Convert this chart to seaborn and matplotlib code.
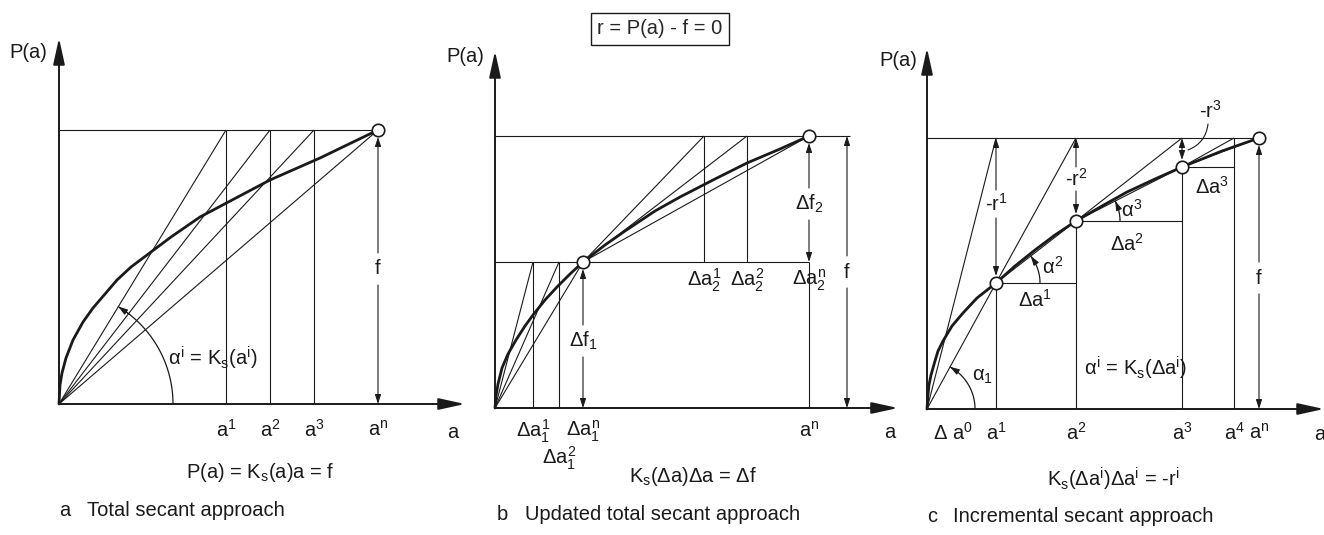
import numpy as np
import matplotlib
matplotlib.use("Agg")
import matplotlib.pyplot as plt
import seaborn as sns

# all values are in pixel-sized units measured from each panel's axis origin

# panel a: total secant approach
a_f = 274
a_an = 319
a_iter = [167, 211, 255]
a_curve_x = [0, 1, 3, 7, 14, 24, 34, 46, 58, 72, 88, 112, 141, 175, 211, 261, 319]
a_curve_y = [0, 19, 31, 46, 64, 82, 96, 110, 124, 137, 149, 167, 187, 205, 224, 246, 274]
a_ticks = ['a$^1$', 'a$^2$', 'a$^3$']

# panel b: updated total secant approach
b_f = 272
b_f1 = 146
b_an = 314
b_a1n = 88
b_iter1 = [38, 64]
b_iter2 = [209, 252]
b_curve_x = [0, 1, 3, 7, 13, 21, 30, 38, 50, 62, 75, 88,
             110, 130, 160, 185, 220, 252, 285, 314]
b_curve_y = [0, 12, 24, 40, 54, 68, 82, 93, 108, 121, 134, 146,
             163, 177, 197, 211, 229, 245, 259, 272]

# panel c: incremental secant approach
c_f = 271
c_steps_x = [0, 69, 149, 255, 332]
c_steps_y = [0, 126, 188, 242, 271]
c_a4 = 307
c_curve_x = [0, 1, 2, 4, 8, 11, 16, 25, 36, 50, 69, 88, 108, 128, 149, 175, 200, 228, 255, 295, 332]
c_curve_y = [0, 14, 24, 34, 48, 58, 68, 83, 96, 111, 126, 143, 159, 174, 188, 203, 217, 230, 242, 258, 271]

W, H = 1324, 535
FS = 14.5

sns.set_theme(style="white")
plt.rcParams['font.family'] = ['Liberation Sans', 'DejaVu Sans']
plt.rcParams['mathtext.fontset'] = 'custom'
plt.rcParams['mathtext.rm'] = 'Liberation Sans'
plt.rcParams['mathtext.it'] = 'Liberation Sans'
plt.rcParams['mathtext.bf'] = 'Liberation Sans:bold'

fig = plt.figure(figsize=(W / 100, H / 100), dpi=100)
fig.patch.set_facecolor('white')

AX_KW = dict(arrowstyle='-|>,head_length=1.6,head_width=0.35', lw=1.4, color='k',
             shrinkA=0, shrinkB=0, mutation_scale=10)
DIM_KW = dict(arrowstyle='-|>,head_length=0.55,head_width=0.18', lw=0.8, color='k',
              shrinkA=0, shrinkB=0, mutation_scale=10)


def panel(ox, oy):
    ax = fig.add_axes([0, 0, 1, 1])
    ax.set_xlim(-ox, W - ox)
    ax.set_ylim(oy - H, oy)
    ax.set_axis_off()
    ax.patch.set_alpha(0)
    return ax


def txt(ax, x, y, s, ha='center', size=FS):
    ax.text(x, y, s, ha=ha, va='center', fontsize=size, color='k')


def seg(ax, xs, ys, lw=0.8):
    ax.plot(xs, ys, color='k', lw=lw, solid_capstyle='butt')


def axes_arrows(ax, xtip, ytip):
    ax.annotate('', xy=(xtip, 0), xytext=(0, 0), arrowprops=AX_KW)
    ax.annotate('', xy=(0, ytip), xytext=(0, 0), arrowprops=AX_KW)


def dim(ax, x, y0, y1, ylab=None, label=None, gap=16):
    if ylab is None:
        mid = (y0 + y1) / 2
        ax.annotate('', xy=(x, y1), xytext=(x, mid), arrowprops=DIM_KW)
        ax.annotate('', xy=(x, y0), xytext=(x, mid), arrowprops=DIM_KW)
    else:
        ax.annotate('', xy=(x, y1), xytext=(x, ylab + gap), arrowprops=DIM_KW)
        ax.annotate('', xy=(x, y0), xytext=(x, ylab - gap), arrowprops=DIM_KW)
        txt(ax, x, ylab, label)


def angle_arc(ax, cx, cy, r, px, py):
    t_end = np.arctan2(py - cy, px - cx)
    t = np.linspace(0, t_end, 60)
    ax.plot(cx + r * np.cos(t), cy + r * np.sin(t), color='k', lw=0.9)
    tb = t_end - 0.12
    ax.annotate('', xy=(cx + r * np.cos(t_end), cy + r * np.sin(t_end)),
                xytext=(cx + r * np.cos(tb), cy + r * np.sin(tb)), arrowprops=DIM_KW)


def curve(ax, xs, ys):
    sns.lineplot(x=xs, y=ys, ax=ax, color='k', lw=2.0, sort=False, estimator=None)


def circles(ax, xs, ys):
    ax.scatter(xs, ys, s=80, facecolor='white', edgecolor='k', linewidth=1.2, zorder=6)


# ---------------- panel a ----------------
ax = panel(59, 404)
axes_arrows(ax, 406, 366)
txt(ax, -31, 352, 'P(a)')
seg(ax, [0, a_an], [a_f, a_f])
for xi in a_iter:
    seg(ax, [xi, xi], [0, a_f])
    seg(ax, [0, xi], [0, a_f])
seg(ax, [0, a_an], [0, a_f])
curve(ax, a_curve_x, a_curve_y)
circles(ax, [a_an], [a_f])
dim(ax, a_an, 0, a_f - 7, 135, 'f')
angle_arc(ax, 0, 0, 114, a_iter[0], a_f)
txt(ax, 154, 46, r'$\alpha^i$ = K$_s$(a$^i$)')
for xi, lab in zip(a_iter, a_ticks):
    txt(ax, xi, -26, lab)
txt(ax, a_an, -26, 'a$^n$')
txt(ax, 394, -28, 'a')
txt(ax, 201, -69, 'P(a) = K$_s$(a)a = f')
txt(ax, 0, -107, 'a', ha='left')
txt(ax, 28, -107, 'Total secant approach', ha='left')

# ---------------- panel b ----------------
ax = panel(495, 408)
axes_arrows(ax, 403, 357)
txt(ax, -30, 352, 'P(a)')
ax.text(165, 379, 'r = P(a) - f = 0', ha='center', va='center', fontsize=FS,
        bbox=dict(boxstyle='square,pad=0.3', fc='white', ec='k', lw=1.0))
seg(ax, [0, 355], [b_f, b_f])
seg(ax, [0, b_an], [b_f1, b_f1])
for xi in b_iter1:
    seg(ax, [xi, xi], [0, b_f1])
    seg(ax, [0, xi], [0, b_f1])
seg(ax, [0, b_a1n], [0, b_f1])
for xi in b_iter2:
    seg(ax, [xi, xi], [b_f1, b_f])
    seg(ax, [b_a1n, xi], [b_f1, b_f])
seg(ax, [b_a1n, b_an], [b_f1, b_f])
seg(ax, [b_an, b_an], [0, b_f1])
curve(ax, b_curve_x, b_curve_y)
circles(ax, [b_a1n, b_an], [b_f1, b_f])
dim(ax, b_a1n, 0, b_f1 - 7, 67, r'$\Delta$f$_1$')
dim(ax, b_an, b_f1, b_f - 7, 204, r'$\Delta$f$_2$')
dim(ax, 352, 0, b_f, 136, 'f')
txt(ax, b_iter1[0], -23, r'$\Delta a_1^1$')
txt(ax, b_iter1[1], -50, r'$\Delta a_1^2$')
txt(ax, b_a1n, -23, r'$\Delta a_1^n$')
txt(ax, b_an, -23, 'a$^n$')
txt(ax, 395, -25, 'a')
txt(ax, b_iter2[0], 128, r'$\Delta a_2^1$')
txt(ax, b_iter2[1], 128, r'$\Delta a_2^2$')
txt(ax, b_an, 128, r'$\Delta a_2^n$')
txt(ax, 198, -69, r'K$_s$($\Delta$a)$\Delta$a = $\Delta$f')
txt(ax, 2, -106, 'b', ha='left')
txt(ax, 30, -106, 'Updated total secant approach', ha='left')

# ---------------- panel c ----------------
ax = panel(927, 409)
axes_arrows(ax, 397, 361)
txt(ax, -29, 349, 'P(a)')
seg(ax, [0, c_steps_x[-1]], [c_f, c_f])
# secant lines to the top and between the points
tops = [c_steps_x[1], c_steps_x[2], c_steps_x[3], c_a4]
for i in range(4):
    x0, y0 = c_steps_x[i], c_steps_y[i]
    seg(ax, [x0, tops[i]], [y0, c_f])
    seg(ax, [x0, c_steps_x[i + 1]], [y0, c_steps_y[i + 1]])
# horizontal increments
for i in range(1, 4):
    xend = c_steps_x[i + 1] if i < 3 else c_a4
    seg(ax, [c_steps_x[i], xend], [c_steps_y[i], c_steps_y[i]])
# verticals
for i in range(1, 4):
    seg(ax, [c_steps_x[i], c_steps_x[i]], [0, c_steps_y[i]])
seg(ax, [c_a4, c_a4], [0, c_f])
curve(ax, c_curve_x, c_curve_y)
circles(ax, c_steps_x[1:], c_steps_y[1:])
dim(ax, c_steps_x[1], c_steps_y[1] + 7, c_f, 205, '-r$^1$', gap=14)
dim(ax, c_steps_x[2], c_steps_y[2] + 7, c_f, 230, '-r$^2$', gap=12)
dim(ax, c_steps_x[3], c_steps_y[3] + 7, c_f)
dim(ax, c_steps_x[4], 0, c_f - 7, 131, 'f')
txt(ax, 283, 298, '-r$^3$')
ax.annotate('', xy=(261, 259), xytext=(281, 285),
            arrowprops=dict(arrowstyle='-', lw=0.8, color='k',
                            connectionstyle='arc3,rad=-0.3', shrinkA=0, shrinkB=0))
angle_arc(ax, 0, 0, 48, c_steps_x[1], c_steps_y[1])
angle_arc(ax, c_steps_x[1], c_steps_y[1], 44, c_steps_x[2], c_steps_y[2])
angle_arc(ax, c_steps_x[2], c_steps_y[2], 44, c_steps_x[3], c_steps_y[3])
txt(ax, 55, 33, r'$\alpha_1$')
txt(ax, 126, 142, r'$\alpha^2$')
txt(ax, 205, 199, r'$\alpha^3$')
txt(ax, 108, 109, r'$\Delta$a$^1$')
txt(ax, 200, 165, r'$\Delta$a$^2$')
txt(ax, 285, 222, r'$\Delta$a$^3$')
txt(ax, 208, 41, r'$\alpha^i$ = K$_s$($\Delta$a$^i$)')
c_tick_labels = [r'$\Delta$ a$^0$', 'a$^1$', 'a$^2$', 'a$^3$', 'a$^4$', 'a$^n$']
c_tick_pos = [26, c_steps_x[1], c_steps_x[2], c_steps_x[3], c_a4, c_steps_x[4]]
for xi, lab in zip(c_tick_pos, c_tick_labels):
    txt(ax, xi, -24, lab)
txt(ax, 393, -25, 'a')
txt(ax, 186, -70, r'K$_s$($\Delta$a$^i$)$\Delta$a$^i$ = -r$^i$')
txt(ax, 0, -108, 'c', ha='left')
txt(ax, 26, -108, 'Incremental secant approach', ha='left')

fig.savefig('out.png', dpi=100, facecolor='white')
